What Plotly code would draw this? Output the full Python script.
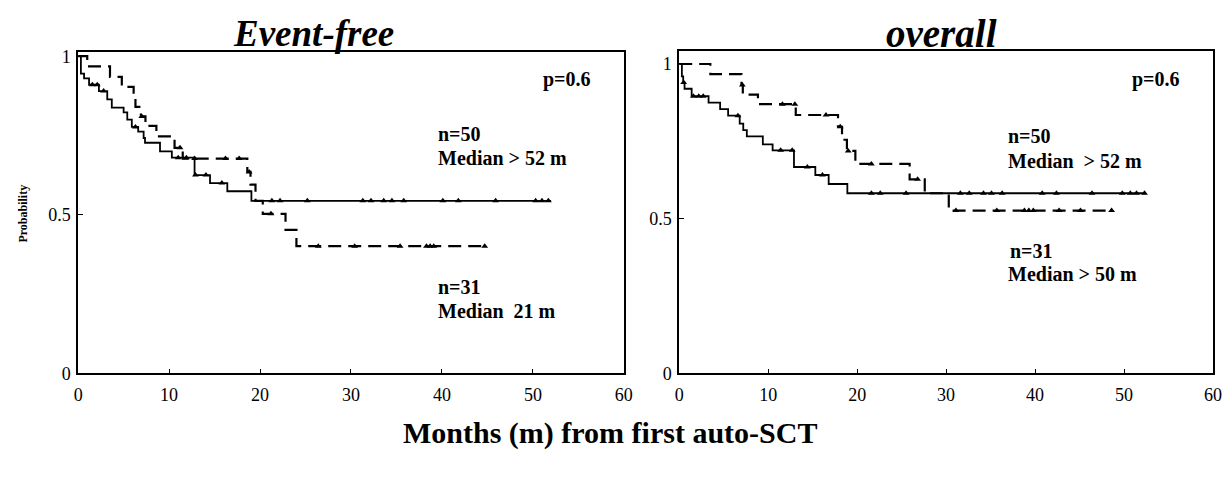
import plotly.graph_objects as go

W, H = 1224, 478

# ---------------- data ----------------
# Event-free, n=50 (solid)
efs50_t = [0.3, 0.65, 1.2, 2.28, 3.2, 3.7, 5.0, 5.4, 5.9, 6.6, 7.2, 7.35, 9.0, 10.3, 12.8, 14.5, 16.4, 19.05]
efs50_s = [0.945, 0.93, 0.91, 0.89, 0.864, 0.838, 0.823, 0.80, 0.777, 0.762, 0.742, 0.727, 0.70, 0.68, 0.625, 0.60, 0.574, 0.544]
efs50_end = 52.0
efs50_cens = [1.56, 2.1, 2.8, 6.3, 11.0, 11.9, 12.9, 14.05, 15.8, 21.3, 22.2, 25.2, 31.3, 32.2,
              33.6, 34.5, 35.8, 40.1, 41.8, 45.9, 50.3, 51.0, 51.7]

# Event-free, n=31 (dashed)
efs31_t = [1.0, 3.5, 4.8, 6.1, 6.3, 6.9, 7.4, 8.6, 10.6, 11.5, 18.6, 18.95, 19.5, 20.3, 22.8, 24.0]
efs31_s = [0.968, 0.935, 0.903, 0.871, 0.84, 0.81, 0.78, 0.747, 0.711, 0.677, 0.635, 0.595, 0.544, 0.503, 0.452, 0.401]
efs31_end = 44.7
efs31_cens = [7.0, 11.2, 12.8, 16.2, 17.7, 18.8, 21.2, 26.4, 30.4, 35.4, 38.3, 38.7, 39.1, 44.7]

# Overall, n=50 (solid)
os50_t = [0.3, 0.45, 0.6, 1.4, 3.3, 4.6, 5.5, 6.8, 7.2, 7.6, 9.4, 10.5, 12.9, 15.3, 16.8, 18.9]
os50_s = [0.96, 0.94, 0.92, 0.896, 0.875, 0.854, 0.833, 0.807, 0.786, 0.766, 0.74, 0.721, 0.667, 0.641, 0.612, 0.582]
os50_end = 52.4
os50_cens = [0.5, 1.6, 2.2, 2.7, 6.6, 11.4, 12.7, 14.4, 16.1, 21.6, 22.6, 25.5, 31.6, 32.6, 34.2,
             35.1, 36.3, 40.8, 42.4, 46.4, 49.8, 50.7, 51.4, 52.3]

# Overall, n=31 (dashed)
os31_t = [3.5, 7.0, 7.15, 8.85, 13.1, 17.85, 18.3, 18.85, 19.8, 25.9, 27.6, 30.3]
os31_s = [0.967, 0.932, 0.901, 0.870, 0.835, 0.797, 0.755, 0.719, 0.677, 0.627, 0.582, 0.526]
os31_end = 48.7
os31_cens = [7.1, 11.6, 13.0, 16.5, 18.1, 19.0, 21.6, 26.8, 31.1, 35.7, 38.8, 39.3, 39.8, 42.7, 45.1, 48.6]

x_ticks = [0, 10, 20, 30, 40, 50, 60]
y_ticks = [0, 0.5, 1]
y_ticktext = ["0", "0.5", "1"]

FONT = "Liberation Serif"


def level_at(ts, ss, t):
    v = 1.0
    for ti, si in zip(ts, ss):
        if ti <= t:
            v = si
    return v


def add_curve(fig, ts, ss, end, cens, dashed, xa, ya):
    xs = [0] + ts + [end]
    ys = [1.0] + ss + [ss[-1]]
    fig.add_trace(go.Scatter(
        x=xs, y=ys, mode="lines", line_shape="hv",
        line=dict(color="black", width=2.2 if dashed else 1.8,
                  dash="13px,7px" if dashed else "solid"),
        xaxis=xa, yaxis=ya, hoverinfo="skip"))
    fig.add_trace(go.Scatter(
        x=cens, y=[level_at(ts, ss, c) for c in cens], mode="markers",
        marker=dict(symbol="triangle-up", size=6, color="black"),
        xaxis=xa, yaxis=ya, hoverinfo="skip"))


fig = go.Figure()
add_curve(fig, efs50_t, efs50_s, efs50_end, efs50_cens, False, "x", "y")
add_curve(fig, efs31_t, efs31_s, efs31_end, efs31_cens, True, "x", "y")
add_curve(fig, os50_t, os50_s, os50_end, os50_cens, False, "x2", "y2")
add_curve(fig, os31_t, os31_s, os31_end, os31_cens, True, "x2", "y2")

axis_common = dict(showline=True, mirror=True, linecolor="black", linewidth=1.5,
                   showgrid=False, zeroline=False, ticks="inside", ticklen=5,
                   tickcolor="black", tickwidth=1,
                   tickfont=dict(family=FONT, size=18, color="black"))

fig.update_layout(
    width=W, height=H,
    margin=dict(l=0, r=0, t=0, b=0),
    paper_bgcolor="white", plot_bgcolor="white",
    showlegend=False,
    xaxis=dict(domain=[74 / W, 626 / W], range=[0, 60], tickvals=x_ticks, anchor="y",
               ticklabelstandoff=4, **axis_common),
    yaxis=dict(domain=[(H - 380) / H, (H - 48) / H], range=[0, 1.012], tickvals=y_ticks,
               ticktext=y_ticktext, anchor="x", ticklabelstandoff=2, **axis_common),
    xaxis2=dict(domain=[682 / W, 1222 / W], range=[0, 60], tickvals=x_ticks, anchor="y2",
                ticklabelstandoff=4, **axis_common),
    yaxis2=dict(domain=[(H - 380) / H, (H - 47) / H], range=[0, 1.0406], tickvals=y_ticks,
                ticktext=y_ticktext, anchor="x2", ticklabelstandoff=2, **axis_common),
)


def ann(text, px, py, size, xanchor="left", bold=True, italic=False, angle=0):
    t = text
    if bold:
        t = "<b>" + t + "</b>"
    if italic:
        t = "<i>" + t + "</i>"
    fig.add_annotation(text=t, x=px / W, y=1 - py / H, xref="paper", yref="paper",
                       xanchor=xanchor, yanchor="middle", showarrow=False, textangle=angle,
                       font=dict(family=FONT, size=size, color="black"))


# titles
ann("Event-free", 312, 28, 37, xanchor="center", italic=True)
ann("overall", 947, 28, 39, xanchor="center", italic=True)
ann("Months (m) from first auto-SCT", 612, 442, 30, xanchor="center")
ann("Probability", 18, 215, 12, xanchor="center", angle=-90)

# left panel labels
ann("p=0.6", 542, 76, 20)
ann("n=50", 436, 132, 20)
ann("Median &gt; 52 m", 436, 157, 20)
ann("n=31", 436, 291, 20)
ann("Median\u00a0 21 m", 436, 316, 20)

# right panel labels
ann("p=0.6", 1138, 76, 20)
ann("n=50", 1013, 135, 20)
ann("Median\u00a0 &gt; 52 m", 1013, 160, 20)
ann("n=31", 1015, 253, 20)
ann("Median &gt; 50 m", 1013, 277, 20)

fig.write_html("out.html")
